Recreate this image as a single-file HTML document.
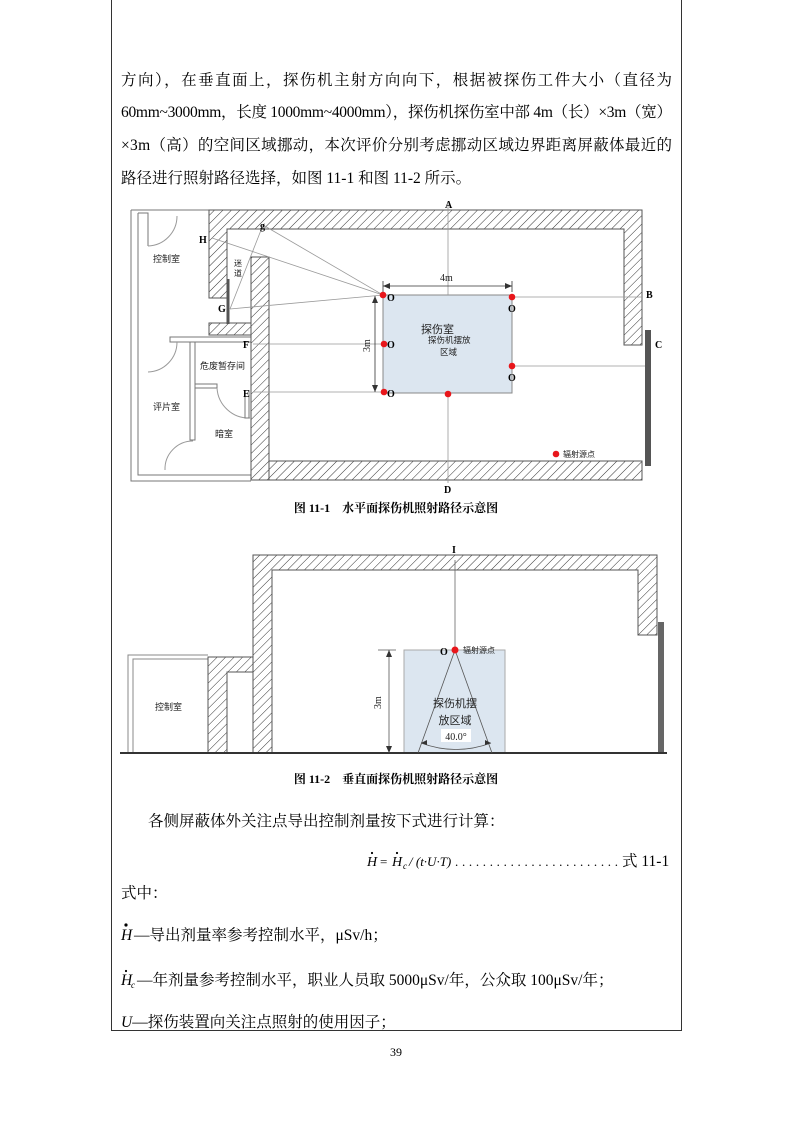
<!DOCTYPE html>
<html><head><meta charset="utf-8"><style>
html,body{margin:0;padding:0;background:#fff;}
svg{display:block;}
.t{font-family:"Liberation Serif","Noto Serif CJK SC","Noto Sans CJK SC",serif;fill:#000;}
.s{font-family:"Liberation Serif","Noto Sans CJK SC",sans-serif;fill:#222;}
</style></head><body>
<svg width="793" height="1122" viewBox="0 0 793 1122" xmlns="http://www.w3.org/2000/svg">
<defs>
<pattern id="h" patternUnits="userSpaceOnUse" width="6" height="6" patternTransform="rotate(45)">
<rect width="6" height="6" fill="#fff"/><line x1="0" y1="0" x2="0" y2="6" stroke="#333" stroke-width="1"/>
</pattern>
</defs>
<path d="M111.5 0 V1030.5 H681.5 V0" fill="none" stroke="#333" stroke-width="1"/>
<g class="t" font-size="15.5">
<text x="121" y="85" textLength="551" lengthAdjust="spacing">方向），在垂直面上，探伤机主射方向向下，根据被探伤工件大小（直径为</text>
<text x="121" y="117" textLength="551" lengthAdjust="spacing">60mm~3000mm，长度 1000mm~4000mm），探伤机探伤室中部 4m（长）×3m（宽）</text>
<text x="121" y="150" textLength="551" lengthAdjust="spacing">×3m（高）的空间区域挪动，本次评价分别考虑挪动区域边界距离屏蔽体最近的</text>
<text x="121" y="183">路径进行照射路径选择，如图 11-1 和图 11-2 所示。</text>
</g>

<!-- FIGURE 1 -->
<g stroke="#777" stroke-width="1" fill="none">
<path d="M131 210 H209 M131 210 V481 H251 M138 213 V475 H251"/>
<path d="M170 337 H251 V342 H170 Z" fill="#fff"/>
<path d="M190 342 V440 H195 V342"/>
<path d="M195 384 H217 V388 H195"/>
<path d="M138 213 H148 V246 M138 339 V372 M138 213 V220"/>
<path d="M148 246 A 30 30 0 0 0 177 216" stroke="#999"/>
<path d="M148 372 A 30 30 0 0 0 177 342" stroke="#999"/>
<path d="M217 388 A 32 32 0 0 0 250 418" stroke="#999"/>
<path d="M165 470 A 28 28 0 0 1 193 441" stroke="#999"/>
<path d="M245 390 V418 H249 V390" />
</g>
<g fill="url(#h)" stroke="#555" stroke-width="1">
<path d="M209 210 H642 V345 H624 V229 H227 V298 H209 Z"/>
<rect x="209" y="323" width="42" height="12"/>
<rect x="251" y="257" width="18" height="223"/>
<rect x="269" y="461" width="373" height="19"/>
</g>
<rect x="226.5" y="279" width="3" height="45" fill="#555"/>
<rect x="645" y="330" width="6" height="136" fill="#555"/>
<rect x="383" y="295" width="129" height="98" fill="#dce6f0" stroke="#888"/>
<g stroke="#999" stroke-width="0.8" fill="none">
<line x1="448" y1="204" x2="448" y2="295"/>
<line x1="448" y1="393" x2="448" y2="483"/>
<line x1="512" y1="297" x2="642" y2="297"/>
<line x1="512" y1="366" x2="645" y2="366"/>
<line x1="253" y1="344" x2="384" y2="344"/>
<line x1="253" y1="392" x2="384" y2="392"/>
<line x1="383" y1="295" x2="212" y2="238"/>
<line x1="383" y1="295" x2="263" y2="225"/>
<line x1="383" y1="295" x2="230" y2="309"/>
<line x1="263" y1="225" x2="230" y2="309"/>
</g>
<g stroke="#333" stroke-width="0.8">
<line x1="383" y1="286" x2="512" y2="286"/>
<line x1="383" y1="281" x2="383" y2="292"/><line x1="512" y1="281" x2="512" y2="292"/>
<line x1="375" y1="296" x2="375" y2="392"/>
</g>
<path d="M383 286 l7 -3 v6 z M512 286 l-7 -3 v6 z M375 296 l-3 7 h6 z M375 392 l-3 -7 h6 z" fill="#333"/>
<g fill="#e8161b">
<circle cx="383" cy="295" r="3.3"/><circle cx="512" cy="297" r="3.3"/>
<circle cx="384" cy="344" r="3.3"/><circle cx="512" cy="366" r="3.3"/>
<circle cx="384" cy="392" r="3.3"/><circle cx="448" cy="394" r="3.3"/>
<circle cx="556" cy="454" r="3.3"/>
</g>
<g class="t" font-size="10" font-weight="bold">
<text x="445" y="208">A</text><text x="646" y="298">B</text><text x="655" y="348">C</text>
<text x="444" y="493">D</text><text x="199" y="243">H</text><text x="260" y="229">g</text>
<text x="218" y="312">G</text><text x="243" y="348">F</text><text x="243" y="397">E</text>
<text x="387" y="301">O</text><text x="508" y="312">O</text><text x="387" y="348">O</text>
<text x="508" y="381">O</text><text x="387" y="397">O</text>
</g>
<g class="s" font-size="9">
<text x="153" y="262">控制室</text>
<text x="234" y="266" font-size="8">迷</text><text x="234" y="276" font-size="8">道</text>
<text x="200" y="369">危废暂存间</text>
<text x="153" y="410">评片室</text>
<text x="215" y="437">暗室</text>
<text x="563" y="457" font-size="8">辐射源点</text>
<text x="421" y="333" font-size="11">探伤室</text>
<text x="428" y="343" font-size="8.5">探伤机摆放</text>
<text x="440" y="355" font-size="8.5">区域</text>
<text x="440" y="281" font-size="10">4m</text>
<text x="0" y="0" font-size="10" transform="translate(370,352) rotate(-90)">3m</text>
</g>
<text x="396" y="512" class="t" font-size="12" font-weight="bold" text-anchor="middle">图 11-1　水平面探伤机照射路径示意图</text>

<!-- FIGURE 2 -->
<g stroke="#888" stroke-width="1" fill="none">
<path d="M128 753 V655 H208 M133 753 V659 H208"/>
<path d="M227 672 V753 M253 672 V753"/>
</g>
<g fill="url(#h)" stroke="#555" stroke-width="1">
<path d="M253 555 H657 V635 H638 V570 H272 V753 H253 Z"/>
<path d="M208 657 H253 V672 H227 V753 H208 Z"/>
</g>
<rect x="658" y="622" width="6" height="131" fill="#666"/>
<rect x="404" y="650" width="101" height="103" fill="#dce6f0" stroke="#aaa"/>
<line x1="120" y1="753" x2="667" y2="753" stroke="#333" stroke-width="2"/>
<line x1="455" y1="560" x2="455" y2="650" stroke="#666" stroke-width="0.8"/>
<g stroke="#555" stroke-width="0.8" fill="none">
<line x1="455" y1="650" x2="418" y2="753"/><line x1="455" y1="650" x2="492" y2="753"/>
<path d="M421 743 Q456 756 491 743"/>
<line x1="378" y1="650" x2="396" y2="650"/>
<line x1="389" y1="650" x2="389" y2="753"/>
</g>
<path d="M389 650 l-3 7 h6 z M389 753 l-3 -7 h6 z M421 743 l6 -3 v5 z M491 743 l-6 -3 v5 z" fill="#333"/>
<circle cx="455" cy="650" r="3.5" fill="#e8161b"/>
<g class="t" font-size="10" font-weight="bold">
<text x="452" y="553">I</text><text x="440" y="655">O</text>
</g>
<g class="s">
<text x="463" y="653" font-size="8">辐射源点</text>
<text x="455" y="707" font-size="11" text-anchor="middle">探伤机摆</text>
<text x="455" y="724" font-size="11" text-anchor="middle">放区域</text>
<rect x="441" y="729" width="30" height="13" fill="#fff"/>
<text x="456" y="740" font-size="10" text-anchor="middle">40.0°</text>
<text x="155" y="710" font-size="9">控制室</text>
<text x="0" y="0" font-size="10" transform="translate(381,709) rotate(-90)">3m</text>
</g>
<text x="396" y="783" class="t" font-size="12" font-weight="bold" text-anchor="middle">图 11-2　垂直面探伤机照射路径示意图</text>

<!-- lower text -->
<g class="t" font-size="15.5">
<text x="148" y="826">各侧屏蔽体外关注点导出控制剂量按下式进行计算：</text>
<text x="367" y="866" font-size="14" font-style="italic">H</text>
<circle cx="372" cy="853" r="1.1" fill="#000"/>
<text x="380" y="866" font-size="13">=</text>
<text x="392" y="866" font-size="14" font-style="italic">H</text>
<circle cx="397" cy="853" r="1.1" fill="#000"/>
<text x="403" y="869" font-size="9" font-style="italic">c</text>
<text x="409" y="866" font-size="13" font-style="italic">/ (t·U·T)</text>
<text x="455" y="866" font-size="13" textLength="163" lengthAdjust="spacing">........................</text>
<text x="622" y="866">式 11-1</text>
<text x="121" y="898">式中：</text>
<text x="121" y="940" font-style="italic">H</text>
<circle cx="126" cy="925" r="1.6" fill="#000"/>
<text x="134" y="940">—导出剂量率参考控制水平，μSv/h；</text>
<text x="121" y="985" font-style="italic">H</text>
<circle cx="126" cy="971" r="1.1" fill="#000"/>
<text x="131" y="988" font-size="9" font-style="italic">c</text>
<text x="137" y="985">—年剂量参考控制水平，职业人员取 5000μSv/年，公众取 100μSv/年；</text>
<text x="121" y="1027"><tspan font-style="italic">U</tspan>—探伤装置向关注点照射的使用因子；</text>
</g>
<text x="396" y="1056" class="t" font-size="12" text-anchor="middle">39</text>
</svg>
</body></html>
